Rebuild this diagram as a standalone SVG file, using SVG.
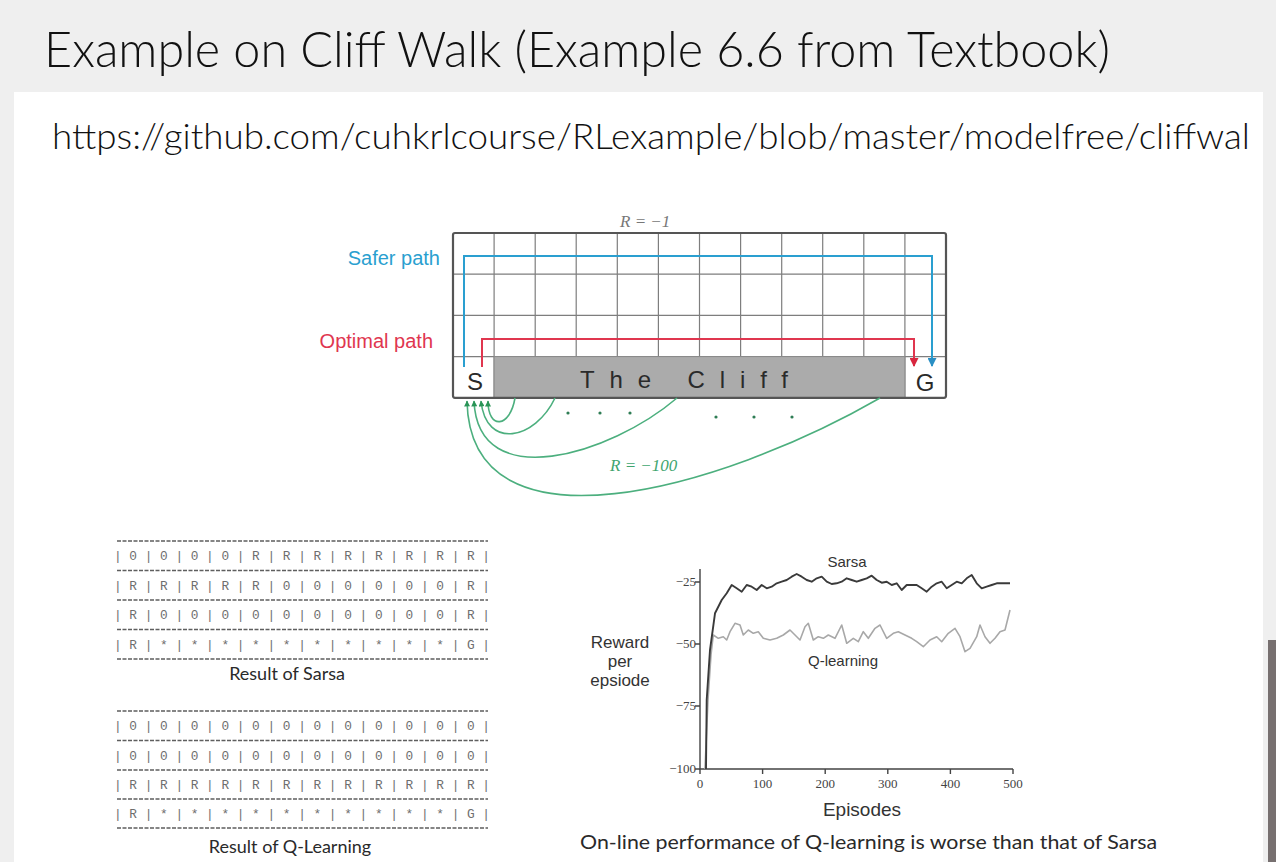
<svg xmlns="http://www.w3.org/2000/svg" width="1276" height="862" viewBox="0 0 1276 862">
  <style>
    .title { font-family: Lato, "Liberation Sans", Arial, sans-serif; font-weight: 300; fill: #111; }
    .grid-line { stroke: #7e7e7e; stroke-width: 1.2; fill: none; }
    .lbl { font-family: "Liberation Sans", Arial, sans-serif; }
    .ital { font-family: "Liberation Serif", "Times New Roman", serif; font-style: italic; }
    .fall { fill: none; stroke: #4caf7e; stroke-width: 1.6; marker-end: url(#gArrow); }
    .dot { fill: #2f7d55; }
    .tbl { font-family: "Liberation Mono", "Courier New", monospace; font-size: 13px; fill: #6e6e6e; }
    .dash { stroke: #5e5e5e; stroke-width: 1.3; stroke-dasharray: 4 1.5; }
    .cap { font-family: Lato, "Open Sans", sans-serif; fill: #2a2a2a; }
    .axis { stroke: #444; stroke-width: 1.4; fill: none; }
    .tick { font-family: "Liberation Serif", "Times New Roman", serif; font-size: 13px; fill: #444; }
    .chart-lbl { font-family: "Liberation Sans", Arial, sans-serif; fill: #333; }
  </style>
  <defs>
    <marker id="gArrow" viewBox="0 0 10 10" refX="9" refY="5" markerWidth="7" markerHeight="6" orient="auto" markerUnits="userSpaceOnUse">
      <path d="M0,0 L10,5 L0,10 z" fill="#2a9457"/>
    </marker>
    <marker id="bArrow" viewBox="0 0 10 10" refX="9" refY="5" markerWidth="11" markerHeight="9" orient="auto" markerUnits="userSpaceOnUse">
      <path d="M0,0 L10,5 L0,10 z" fill="#2a8fc4"/>
    </marker>
    <marker id="rArrow" viewBox="0 0 10 10" refX="9" refY="5" markerWidth="11" markerHeight="9" orient="auto" markerUnits="userSpaceOnUse">
      <path d="M0,0 L10,5 L0,10 z" fill="#d8263f"/>
    </marker>
  </defs>

  <!-- page background and slide panel -->
  <rect x="0" y="0" width="1276" height="862" fill="#efefef"/>
  <rect x="14" y="92" width="1249" height="770" fill="#ffffff"/>
  <rect x="1268" y="640" width="8" height="222" fill="#777070"/>

  <!-- heading -->
  <g id="heading">
    <text class="title" x="44" y="67" font-size="49" textLength="1066" lengthAdjust="spacingAndGlyphs">Example on Cliff Walk (Example 6.6 from Textbook)</text>
    <text class="title" x="52" y="149" font-size="36" textLength="1198" lengthAdjust="spacingAndGlyphs">https://github.com/cuhkrlcourse/RLexample/blob/master/modelfree/cliffwal</text>
  </g>

  <!-- cliff-walk gridworld -->
  <g id="gridworld">
    <rect x="453" y="233" width="493" height="164.8" fill="#ffffff"/>
    <g class="grid-line">
      <path d="M494.1,233V397.8 M535.2,233V397.8 M576.2,233V397.8 M617.3,233V397.8 M658.4,233V397.8 M699.5,233V397.8 M740.6,233V397.8 M781.7,233V397.8 M822.7,233V397.8 M863.8,233V397.8 M904.9,233V397.8"/>
      <path d="M453,274.2H946 M453,315.4H946 M453,356.6H946"/>
    </g>
    <g id="cliff">
      <rect x="494.1" y="356.6" width="410.8" height="41.2" fill="#ababab" stroke="#8a8a8a" stroke-width="1"/>
      <text class="lbl" x="580" y="388" font-size="24" fill="#2a2a2a" textLength="208" lengthAdjust="spacing">The Cliff</text>
    </g>
    <rect x="453" y="233" width="493" height="164.8" rx="2" fill="none" stroke="#555" stroke-width="2.2"/>
    <g id="start">
      <text class="lbl" x="475" y="390" font-size="24" fill="#2a2a2a" text-anchor="middle">S</text>
    </g>
    <g id="goal">
      <text class="lbl" x="925" y="391" font-size="24" fill="#2a2a2a" text-anchor="middle">G</text>
    </g>
    <text class="ital" x="620" y="227" font-size="17" fill="#777">R = −1</text>
  </g>

  <!-- path labels -->
  <g id="safer-label">
    <text class="lbl" x="440" y="265" font-size="20" fill="#2a9fd0" text-anchor="end">Safer path</text>
  </g>
  <g id="optimal-label">
    <text class="lbl" x="433" y="348" font-size="20" fill="#e0364f" text-anchor="end">Optimal path</text>
  </g>

  <!-- connectors -->
  <g id="connectors">
    <path d="M464,367 V256 H932 V366" fill="none" stroke="#2a9fd0" stroke-width="2" marker-end="url(#bArrow)"/>
    <path d="M482,367 V339 H914 V366" fill="none" stroke="#e0364f" stroke-width="2" marker-end="url(#rArrow)"/>
    <path class="fall" d="M515,398 C510,428 488,430 488,401"/>
    <path class="fall" d="M555,398 C535,440 486,450 481,401"/>
    <path class="fall" d="M677,398 C610,455 478,495 474,401"/>
    <path class="fall" d="M880,398 C720,490 470,560 467,401"/>
  </g>
  <g id="ellipsis">
    <circle class="dot" cx="568" cy="413" r="1.6"/>
    <circle class="dot" cx="600" cy="413" r="1.6"/>
    <circle class="dot" cx="630" cy="413" r="1.6"/>
    <circle class="dot" cx="716" cy="417" r="1.6"/>
    <circle class="dot" cx="754" cy="417" r="1.6"/>
    <circle class="dot" cx="792" cy="417" r="1.6"/>
  </g>
  <text class="ital" x="610" y="471" font-size="17" fill="#3fa56f">R = −100</text>

  <!-- Sarsa policy table -->
  <g id="sarsa-table">
    <line class="dash" x1="117" y1="541" x2="488" y2="541"/>
    <line class="dash" x1="117" y1="570.5" x2="488" y2="570.5"/>
    <line class="dash" x1="117" y1="600" x2="488" y2="600"/>
    <line class="dash" x1="117" y1="629.5" x2="488" y2="629.5"/>
    <line class="dash" x1="117" y1="659" x2="488" y2="659"/>
    <text class="tbl" x="114" y="560" textLength="376" lengthAdjust="spacingAndGlyphs">| 0 | 0 | 0 | 0 | R | R | R | R | R | R | R | R |</text>
    <text class="tbl" x="114" y="589.5" textLength="376" lengthAdjust="spacingAndGlyphs">| R | R | R | R | R | 0 | 0 | 0 | 0 | 0 | 0 | R |</text>
    <text class="tbl" x="114" y="619" textLength="376" lengthAdjust="spacingAndGlyphs">| R | 0 | 0 | 0 | 0 | 0 | 0 | 0 | 0 | 0 | 0 | R |</text>
    <text class="tbl" x="114" y="648.5" textLength="376" lengthAdjust="spacingAndGlyphs">| R | * | * | * | * | * | * | * | * | * | * | G |</text>
    <text class="cap" x="287" y="680" font-size="18" text-anchor="middle">Result of Sarsa</text>
  </g>

  <!-- Q-learning policy table -->
  <g id="qlearning-table">
    <line class="dash" x1="117" y1="711" x2="488" y2="711"/>
    <line class="dash" x1="117" y1="740.5" x2="488" y2="740.5"/>
    <line class="dash" x1="117" y1="770" x2="488" y2="770"/>
    <line class="dash" x1="117" y1="799" x2="488" y2="799"/>
    <line class="dash" x1="117" y1="828" x2="488" y2="828"/>
    <text class="tbl" x="114" y="730" textLength="376" lengthAdjust="spacingAndGlyphs">| 0 | 0 | 0 | 0 | 0 | 0 | 0 | 0 | 0 | 0 | 0 | 0 |</text>
    <text class="tbl" x="114" y="759.5" textLength="376" lengthAdjust="spacingAndGlyphs">| 0 | 0 | 0 | 0 | 0 | 0 | 0 | 0 | 0 | 0 | 0 | 0 |</text>
    <text class="tbl" x="114" y="789" textLength="376" lengthAdjust="spacingAndGlyphs">| R | R | R | R | R | R | R | R | R | R | R | R |</text>
    <text class="tbl" x="114" y="818" textLength="376" lengthAdjust="spacingAndGlyphs">| R | * | * | * | * | * | * | * | * | * | * | G |</text>
    <text class="cap" x="290" y="853" font-size="18" text-anchor="middle">Result of Q-Learning</text>
  </g>

  <!-- reward-per-episode chart -->
  <g id="chart">
    <path class="axis" d="M700,569 V769 H1013"/>
    <path class="axis" d="M695,582H700 M695,644H700 M695,706H700 M695,769H700 M700,769V774 M762.6,769V774 M825.2,769V774 M887.8,769V774 M950.4,769V774 M1013,769V774"/>
    <text class="tick" x="696" y="586" text-anchor="end">−25</text>
    <text class="tick" x="696" y="648" text-anchor="end">−50</text>
    <text class="tick" x="696" y="710" text-anchor="end">−75</text>
    <text class="tick" x="696" y="773" text-anchor="end">−100</text>
    <text class="tick" x="700" y="788" text-anchor="middle">0</text>
    <text class="tick" x="762.6" y="788" text-anchor="middle">100</text>
    <text class="tick" x="825.2" y="788" text-anchor="middle">200</text>
    <text class="tick" x="887.8" y="788" text-anchor="middle">300</text>
    <text class="tick" x="950.4" y="788" text-anchor="middle">400</text>
    <text class="tick" x="1013" y="788" text-anchor="middle">500</text>

    <path id="q-curve" fill="none" stroke="#a8a8a8" stroke-width="1.6" stroke-linejoin="round"
      d="M705,769 L708,700 L711,655 L713.3,635 L718.3,638.3 L723.3,636.7 L726.7,640 L730,631.7 L735,623.3 L740,625 L743.3,635 L748.3,630 L753.3,633.3 L758.3,631.7 L763.3,638.3 L770,640 L776.7,638.3 L783.3,635 L790,630 L795,635 L800,640 L805,626.7 L808.3,623.3 L813.3,640 L818.3,636.7 L823.3,638.3 L828.3,635 L835,638.3 L841.7,625 L846.7,643.3 L853.3,638.3 L858.3,641.7 L863.3,631.7 L868.3,638.3 L875,628.3 L880,625 L886.7,638.3 L893.3,633.3 L898.3,631.7 L905,635 L911.7,638.3 L916.7,641.7 L923.3,646.7 L930,640 L936.7,636.7 L941.7,641.7 L948.3,633.3 L955,628.3 L960,636.7 L965,651.7 L970,648.3 L976.7,636.7 L980,625 L985,636.7 L990,643.3 L995,638.3 L1000,631.7 L1005,630 L1010,610"/>
    <path id="sarsa-curve" fill="none" stroke="#3a3a3a" stroke-width="1.9" stroke-linejoin="round"
      d="M706,769 L706.7,700 L710,650 L715,613.3 L721.7,600 L726.7,593.3 L731.7,585 L736.7,588.3 L741.7,591.7 L746.7,585 L751.7,586.7 L756.7,590 L761.7,585 L766.7,588.3 L771.7,586.7 L776.7,583.3 L781.7,581.7 L786.7,580 L791.7,576.7 L796.7,574 L801.7,576.7 L806.7,580 L811.7,581.7 L816.7,578.3 L821.7,576.7 L826.7,581.7 L831.7,584 L836.7,583.3 L841.7,581.7 L846.7,578.3 L851.7,580 L856.7,581.7 L861.7,580 L866.7,578.3 L871.7,575.7 L876.7,580 L881.7,582.7 L886.7,581.7 L891.7,585 L896.7,583.3 L901.7,590 L906.7,585 L911.7,585 L916.7,585 L921.7,588.3 L926.7,591.7 L931.7,586.7 L936.7,583.3 L941.7,581.7 L946.7,588.3 L951.7,585 L956.7,581.7 L961.7,583.3 L966.7,578.3 L971.7,575 L976.7,583.3 L981.7,588.3 L986.7,586.7 L991.7,585 L996.7,583.3 L1010,583.3"/>

    <text class="chart-lbl" x="847" y="567" font-size="15" text-anchor="middle">Sarsa</text>
    <text class="chart-lbl" x="843" y="666" font-size="15" text-anchor="middle">Q-learning</text>
    <text class="chart-lbl" x="620" y="648" font-size="17" text-anchor="middle">Reward</text>
    <text class="chart-lbl" x="620" y="667" font-size="17" text-anchor="middle">per</text>
    <text class="chart-lbl" x="620" y="686" font-size="17" text-anchor="middle">epsiode</text>
    <text class="chart-lbl" x="862" y="816" font-size="19" text-anchor="middle">Episodes</text>
  </g>

  <g id="chart-caption">
    <text class="cap" x="580" y="849" font-size="20" textLength="577" lengthAdjust="spacingAndGlyphs">On-line performance of Q-learning is worse than that of Sarsa</text>
  </g>
</svg>
